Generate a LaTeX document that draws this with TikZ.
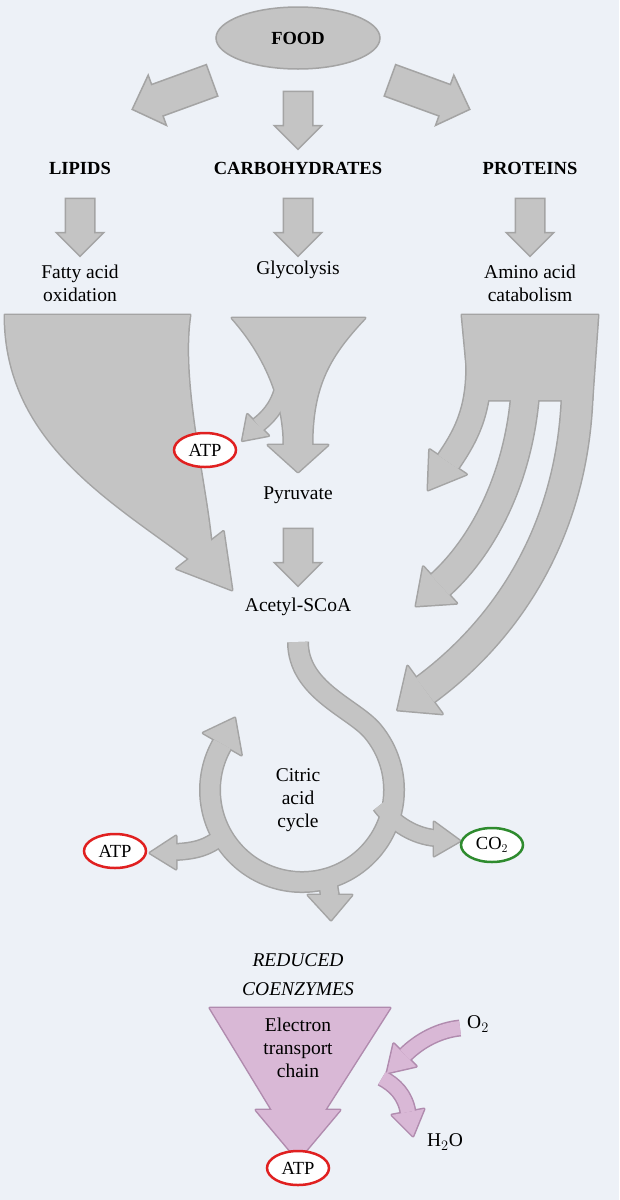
\documentclass[tikz,border=0pt]{standalone}
\usepackage{fontspec}
\setmainfont{Liberation Serif}
\usetikzlibrary{shapes.arrows,shapes.geometric}
\definecolor{bg}{HTML}{EDF1F7}
\definecolor{g}{HTML}{C4C4C4}
\definecolor{gd}{HTML}{A4A4A4}
\definecolor{pu}{HTML}{D9B8D6}
\definecolor{pud}{HTML}{B08BAE}
\definecolor{rd}{HTML}{E02020}
\definecolor{gr}{HTML}{2E8B2E}
\tikzset{
 blk/.style={single arrow, draw=gd, fill=g, line width=1.5pt, inner xsep=0pt, inner ysep=14pt, single arrow head extend=9pt, minimum height=58pt},
 lbl/.style={font=\fontsize{19.5}{23}\selectfont, align=center},
 hd/.style={font=\fontsize{18.5}{22}\selectfont\bfseries},
 oval/.style={ellipse, line width=2.5pt, fill=white, inner sep=1pt, minimum width=62pt, minimum height=34pt, font=\fontsize{18.5}{22}\selectfont}
}
\newcommand\leftF{(5,315) .. controls (5,440) and (110,500) .. (189,559) -- (176.6,568.6) -- (232,590) -- (223.4,531.4) -- (211,541) .. controls (205,480) and (180,380) .. (190,315) -- cycle}
\newcommand\glyF{(232,318) -- (365,318) .. controls (330,355) and (312,385) .. (312,445) -- (328,445) -- (298,472) -- (268,445) -- (284,445) .. controls (284,400) and (265,355) .. (232,318) -- cycle}
\newcommand\glyH{(268.6,435.6) -- (242.4,440.6) -- (247.4,414.4) -- cycle}
\newcommand\glyT{(282,390) .. controls (277,408) and (267,418) .. (258,425)}
\newcommand\rTop{(462,315) -- (598,315) -- (592,400) -- (470,400) -- cycle}
\newcommand\rTa{(476,330) .. controls (485,400) and (470,430) .. (448,462)}
\newcommand\rTb{(525,330) .. controls (535,450) and (490,540) .. (440,585)}
\newcommand\rTc{(575,330) .. controls (592,500) and (520,620) .. (425,690)}
\newcommand\rHa{(466.4,474.4) -- (428,490) -- (429.6,449.6) -- cycle}
\newcommand\rHb{(456.7,603.3) -- (416,606) -- (423.3,566.7) -- cycle}
\newcommand\rHc{(442.4,713.9) -- (397.6,710) -- (407.6,666.1) -- cycle}
\newcommand\cyc{(298,642) .. controls (298,690) and (353,708) .. (372.5,730.9) arc[start angle=-40, end angle=210, radius=92]}
\newcommand\cycH{(241.4,755) -- (234.8,718) -- (203.2,733) -- cycle}
\newcommand\coT{(380,805) .. controls (395,825) and (415,836) .. (435,838)}
\newcommand\coH{(434,822) -- (460,841) -- (434,856) -- cycle}
\newcommand\atT{(226,832) .. controls (210,848) and (195,851) .. (175,852)}
\newcommand\atH{(176,836) -- (150,853) -- (176,869) -- cycle}
\newcommand\boT{(326,872) -- (330,896)}
\newcommand\boH{(308,895) -- (331,920) -- (352,895) -- cycle}
\newcommand\etc{(210,1008) -- (390,1008) -- (325,1110) -- (340,1110) -- (298,1160) -- (256,1110) -- (272,1110) -- cycle}
\newcommand\oT{(460,1028) .. controls (440,1030) and (420,1040) .. (405,1055)}
\newcommand\oH{(416.3,1066.3) -- (387,1073) -- (393.7,1043.7) -- cycle}
\newcommand\hT{(382,1078) .. controls (395,1085) and (405,1095) .. (408,1112)}
\newcommand\hH{(424,1109) -- (413,1136) -- (392,1115) -- cycle}
\begin{document}
\begin{tikzpicture}[x=1pt,y=-1pt]
\fill[bg] (0,0) rectangle (619,1200);
\useasboundingbox (0,0) rectangle (619,1200);
\node[ellipse, fill=g, draw=gd, line width=1.5pt, minimum width=164pt, minimum height=62pt, hd] (food) at (298,38) {FOOD};
\node[blk, rotate=200, minimum height=85pt, inner ysep=16pt, single arrow head extend=10pt] (a1) at (180,92) {};
\node[blk, rotate=-90] (a2) at (298,113) {};
\node[blk, rotate=-20, minimum height=85pt, inner ysep=16pt, single arrow head extend=10pt] (a3) at (422,92) {};
\node[hd] (lip) at (80,168) {LIPIDS};
\node[hd] (carb) at (298,168) {CARBOHYDRATES};
\node[hd] (prot) at (530,168) {PROTEINS};
\node[blk, rotate=-90] (b1) at (80,220) {};
\node[blk, rotate=-90] (b2) at (298,220) {};
\node[blk, rotate=-90] (b3) at (530,220) {};
\node[lbl] (fa) at (80,283) {Fatty acid\\oxidation};
\node[lbl] (gl) at (298,270) {Glycolysis};
\node[lbl] (aa) at (530,283) {Amino acid\\catabolism};
\begin{scope}[gd, line width=3pt, line join=round]
\filldraw \leftF; \filldraw \glyF; \filldraw \glyH; \filldraw \rTop;
\filldraw \rHa; \filldraw \rHb; \filldraw \rHc; \filldraw \cycH; \filldraw \coH; \filldraw \atH; \filldraw \boH;
\draw[line width=17pt] \glyT; \draw[line width=27pt] \rTa; \draw[line width=30pt] \rTb; \draw[line width=33pt] \rTc;
\draw[line width=22pt] \cyc; \draw[line width=18pt] \coT; \draw[line width=18pt] \atT; \draw[line width=20pt] \boT;
\end{scope}
\begin{scope}[g]
\fill \leftF; \fill \glyF; \fill \glyH; \fill \rTop;
\fill \rHa; \fill \rHb; \fill \rHc; \fill \cycH; \fill \coH; \fill \atH; \fill \boH;
\draw[line width=14pt] \glyT; \draw[line width=24pt] \rTa; \draw[line width=27pt] \rTb; \draw[line width=30pt] \rTc;
\draw[line width=19pt] \cyc; \draw[line width=15pt] \coT; \draw[line width=15pt] \atT; \draw[line width=17pt] \boT;
\end{scope}
\node[oval, draw=rd] (atp1) at (205,450) {ATP};
\node[lbl] (pyr) at (298,495) {Pyruvate};
\node[blk, rotate=-90] (c1) at (298,550) {};
\node[lbl] (ac) at (298,607) {Acetyl-SCoA};
\node[lbl] (cac) at (298,800) {Citric\\acid\\cycle};
\node[oval, draw=rd] (atp2) at (115,851) {ATP};
\node[oval, draw=gr] (co2) at (492,845) {CO$_2$};
\node[lbl, font=\fontsize{19.5}{29}\selectfont\itshape] (rc) at (298,975) {REDUCED\\COENZYMES};
\begin{scope}[pud, line width=3pt, line join=round]
\filldraw \etc; \filldraw \oH; \filldraw \hH;
\draw[line width=17pt] \oT; \draw[line width=17pt] \hT;
\end{scope}
\begin{scope}[pu]
\fill \etc; \fill \oH; \fill \hH;
\draw[line width=14pt] \oT; \draw[line width=14pt] \hT;
\end{scope}
\node[lbl] (etcl) at (298,1048) {Electron\\transport\\chain};
\node[lbl] (o2) at (478,1024) {O$_2$};
\node[lbl] (h2o) at (445,1142) {H$_2$O};
\node[oval, draw=rd] (atp3) at (298,1168) {ATP};
\end{tikzpicture}
\end{document}
